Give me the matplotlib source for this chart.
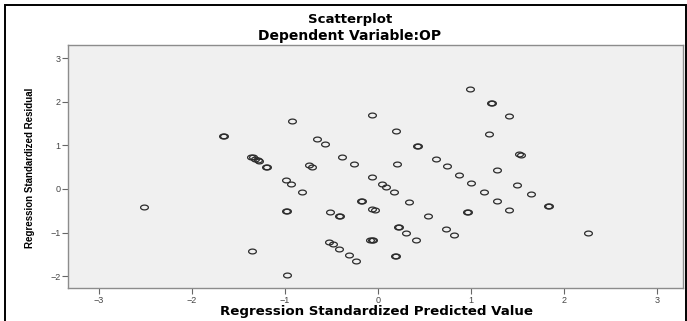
import numpy as np
import matplotlib
matplotlib.use("Agg")
import matplotlib.pyplot as plt
from matplotlib.path import Path
from matplotlib.patches import Rectangle

plt.rcParams['font.family'] = ['Liberation Sans', 'DejaVu Sans']

# predicted (x) et residus (y)
pred = [0.99, 1.22, 1.23, 1.41, 1.20, 1.52, 1.54, 1.28, 0.74, 0.87, 1.00, 1.50,
        1.14, 1.65, 1.28, 1.41, 1.83, 1.84, 0.96, 0.97, 0.73, 0.82, 2.26,
        -0.06, -0.92, 0.19, -0.65, -0.57, 0.42, 0.43,
        -1.36, -1.34, -1.32, -1.29, -1.28, -1.20, -1.19, -0.74, -0.71,
        -0.38, -0.26, 0.21, 0.63, -0.99, -0.93, -0.81, -0.06, 0.04, 0.09,
        0.17, 0.33, -0.18, -0.17, -0.06, -0.03, -0.51, -0.42, -0.41,
        -0.99, -0.98, 0.54, 0.22, 0.23, 0.30, 0.41, -0.52, -0.48, -0.42,
        -0.08, -0.06, -0.05, -0.31, -0.23, 0.18, 0.19, -1.35, -0.98,
        -1.66, -1.65, -2.51]
resid = [2.30, 1.97, 1.96, 1.67, 1.27, 0.80, 0.79, 0.43, 0.52, 0.32, 0.13, 0.10,
         -0.08, -0.11, -0.28, -0.49, -0.39, -0.39, -0.53, -0.53, -0.91, -1.05, -1.02,
         1.70, 1.55, 1.33, 1.14, 1.02, 0.99, 0.99,
         0.73, 0.74, 0.69, 0.66, 0.65, 0.51, 0.51, 0.55, 0.51,
         0.74, 0.57, 0.57, 0.68, 0.20, 0.11, -0.06, 0.27, 0.11, 0.05,
         -0.08, -0.31, -0.28, -0.28, -0.46, -0.49, -0.52, -0.63, -0.63,
         -0.51, -0.51, -0.63, -0.88, -0.88, -1.00, -1.16, -1.22, -1.27, -1.37,
         -1.16, -1.18, -1.17, -1.52, -1.66, -1.54, -1.54, -1.43, -1.98,
         1.21, 1.21, -0.41]

xticks = [-3, -2, -1, 0, 1, 2, 3]
yticks = [-2, -1, 0, 1, 2, 3]

# marqueur ellipse (cercle SPSS etire)
t = np.linspace(0, 2 * np.pi, 40)
ell = Path(np.column_stack([np.cos(t), 0.62 * np.sin(t)]))

fig = plt.figure(figsize=(6.87, 3.21), dpi=100)
fig.patch.set_facecolor('white')
fig.patches.append(Rectangle((5 / 687, -0.1), 681 / 687, 1.1 - 5 / 321,
                             transform=fig.transFigure, fill=False,
                             edgecolor='black', lw=1.4, clip_on=False))

ax = fig.add_axes([68 / 687, 33 / 321, 615 / 687, 243 / 321])
ax.set_facecolor('#F0F0F0')
ax.plot(pred, resid, linestyle='none', marker=ell, markersize=5.6,
        mfc='none', mec='#2b2b2b', mew=0.9)

ax.set_xlim(-3.33, 3.28)
ax.set_ylim(-2.27, 3.30)
ax.set_xticks(xticks)
ax.set_yticks(yticks)
for s in ax.spines.values():
    s.set_color('#8c8c8c')
    s.set_linewidth(1.0)
ax.tick_params(direction='out', length=4, width=0.8, color='#666666',
               labelsize=6.5, labelcolor='#444444', pad=1.5)

wide = ['DejaVu Sans']
fig.text(350 / 687, 1 - 20 / 321, 'Scatterplot', ha='center', va='center',
         fontsize=9.5, fontweight='bold', family=wide)
fig.text(350 / 687, 1 - 36 / 321, 'Dependent Variable:OP', ha='center', va='center',
         fontsize=10, fontweight='bold', family=wide)
fig.text(377 / 687, 1 - 311 / 321, 'Regression Standardized Predicted Value',
         ha='center', va='center', fontsize=9.6, fontweight='bold', family=wide)
fig.text(30 / 687, 1 - 168 / 321, 'Regression Standardized Residual',
         ha='center', va='center', rotation=90, fontsize=7, fontweight='bold')

fig.savefig('out.png', dpi=100)
